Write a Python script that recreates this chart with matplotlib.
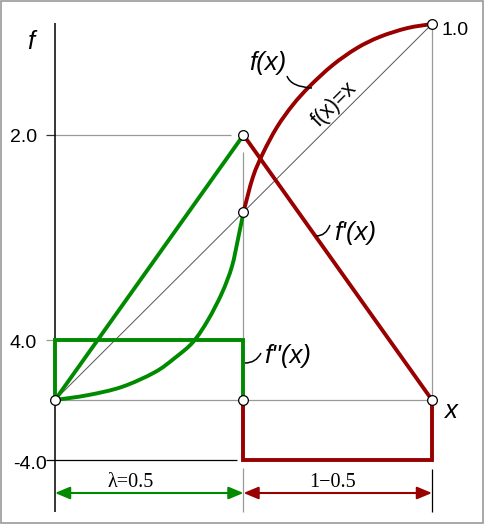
import matplotlib
matplotlib.use("Agg")
import matplotlib.pyplot as plt
from matplotlib.patches import Rectangle, PathPatch
from matplotlib.path import Path

# ---------------- data ----------------
lam = 0.5
# f(x) on [0, lam]  (green)
f_left_x = [0.0, 0.0875, 0.178, 0.265, 0.318, 0.366, 0.406, 0.443, 0.469, 0.485, 0.5]
f_left_y = [0.0, 0.013, 0.035, 0.074, 0.112, 0.154, 0.213, 0.285, 0.354, 0.426, 0.5]
# f(x) on [lam, 1]  (red)
f_right_x = [0.5, 0.525, 0.552, 0.589, 0.631, 0.676, 0.737, 0.801, 0.862, 0.934, 1.0]
f_right_y = [0.5, 0.593, 0.657, 0.726, 0.785, 0.835, 0.891, 0.936, 0.966, 0.989, 1.0]
# f'(x)
fp_x = [0.0, 0.5, 1.0]
fp_y = [0.0, 2.0, 0.0]
# f''(x)
fpp_left = 4.0
fpp_right = -4.0
# axis tick labels
tick_fp = "2.0"
tick_fpp_pos = "4.0"
tick_fpp_neg = "-4.0"
tick_f = "1.0"

# ---------------- layout ----------------
W, H = 485, 525
X0, X1 = 55, 432        # pixel of x=0 and x=1
Y0, Y1 = 400, 24        # pixel of f=0 and f=1
SX = X1 - X0
SY = Y0 - Y1
FP_SCALE = (Y0 - 135) / SY / 2.0     # data units per unit of f'
FPP_SCALE = 60 / SY / 4.0            # data units per unit of f''

def P(px, py):
    """pixel -> data"""
    return ((px - X0) / SX, (Y0 - py) / SY)

GREEN = "#008a00"
RED = "#990000"
GRAY = "#999999"

fig = plt.figure(figsize=(W / 100, H / 100), dpi=100)
ax = fig.add_axes([0, 0, 1, 1])
ax.set_xlim(-X0 / SX, (W - X0) / SX)
ax.set_ylim(-(H - Y0) / SY, Y0 / SY)
ax.axis("off")

fig.patches.append(Rectangle((1 / W, 2 / H), (W - 3) / W, (H - 3) / H,
                             transform=fig.transFigure, fill=False,
                             edgecolor=GRAY, lw=1.2))

def hline(y, px_a, px_b, color, lw=0.9, z=1):
    xa = (px_a - X0) / SX
    xb = (px_b - X0) / SX
    ax.plot([xa, xb], [y, y], color=color, lw=lw, zorder=z, solid_capstyle="butt")

def vline(x, py_a, py_b, color, lw=0.9, z=1):
    ax.plot([x, x], [P(0, py_a)[1], P(0, py_b)[1]], color=color, lw=lw, zorder=z,
            solid_capstyle="butt")

def smooth_curve(xs, ys, color, lw, z=3):
    """Draw a smooth (Catmull-Rom style Bezier) line through the given points."""
    pts = list(zip(xs, ys))
    n = len(pts)
    verts = [pts[0]]
    codes = [Path.MOVETO]
    for i in range(n - 1):
        p0 = pts[i - 1] if i > 0 else pts[i]
        p1 = pts[i]
        p2 = pts[i + 1]
        p3 = pts[i + 2] if i + 2 < n else pts[i + 1]
        c1 = (p1[0] + (p2[0] - p0[0]) / 6, p1[1] + (p2[1] - p0[1]) / 6)
        c2 = (p2[0] - (p3[0] - p1[0]) / 6, p2[1] - (p3[1] - p1[1]) / 6)
        verts += [c1, c2, p2]
        codes += [Path.CURVE4] * 3
    ax.add_patch(PathPatch(Path(verts, codes), fill=False, edgecolor=color,
                           lw=lw, zorder=z, capstyle="butt"))

# ---- axes & guide lines ----
vline(0.0, 23, 512, "black", lw=1.1, z=2)
hline(0.0, X0, X1, GRAY)
hline(fp_y[1] * FP_SCALE, X0, 231, GRAY)
hline(fp_y[1] * FP_SCALE, 46, X0, "#333333")
hline(fpp_left * FPP_SCALE, 46, X0, GRAY)
hline(fpp_right * FPP_SCALE, 46, 237, "black")
vline(lam, 152, 461, GRAY)
vline(lam, 468, 512, GRAY)
vline(1.0, 24, 400, GRAY)
vline(1.0, 469, 512, "black", lw=0.9)
# diagonal f(x)=x
ax.plot([0, 1], [0, 1], color="#555555", lw=0.7, zorder=2)

LW = 2.8
# ---- green part (x < lam) ----
smooth_curve(f_left_x, f_left_y, GREEN, LW)
ax.plot(fp_x[:2], [v * FP_SCALE for v in fp_y[:2]], color=GREEN, lw=LW, zorder=3)
ax.plot([0, 0, lam, lam], [0, fpp_left * FPP_SCALE, fpp_left * FPP_SCALE, 0],
        color=GREEN, lw=LW, zorder=3, solid_joinstyle="miter")
# ---- red part (x > lam) ----
smooth_curve(f_right_x, f_right_y, RED, LW)
ax.plot(fp_x[1:], [v * FP_SCALE for v in fp_y[1:]], color=RED, lw=LW, zorder=3)
ax.plot([lam, lam, 1, 1], [0, fpp_right * FPP_SCALE, fpp_right * FPP_SCALE, 0],
        color=RED, lw=LW, zorder=3, solid_joinstyle="miter")

# ---- circles ----
cx = [0.0, lam, 1.0, lam, lam, 1.0]
cy = [0.0, 0.0, 0.0, f_left_y[-1], fp_y[1] * FP_SCALE, f_right_y[-1]]
ax.plot(cx, cy, "o", ms=7, mfc="white", mec="black", mew=0.9, zorder=5, ls="none")

# ---- arrows ----
ya = P(0, 493)[1]
arrow_style = "<|-|>,head_length=0.6,head_width=0.25"
ax.annotate("", xy=(lam, ya), xytext=(0, ya),
            arrowprops=dict(arrowstyle=arrow_style, color=GREEN, lw=1.5,
                            mutation_scale=15, shrinkA=0, shrinkB=0))
ax.annotate("", xy=(1.0, ya), xytext=(lam, ya),
            arrowprops=dict(arrowstyle=arrow_style, color=RED, lw=1.5,
                            mutation_scale=15, shrinkA=0, shrinkB=0))

# ---- texts ----
SANS = "Liberation Sans"
SERIF = "Liberation Serif"
it = dict(family=SANS, style="italic", fontsize=18.5, color="black")
num = dict(family=SANS, fontsize=14, color="black")

ax.text(*P(27, 49), "f", ha="left", va="baseline", **it)
ax.text(*P(444, 418), "x", ha="left", va="baseline", **it)
ax.text(*P(249, 70), "f(x)", ha="left", va="baseline", **it)
ax.text(*P(334, 240), "f'(x)", ha="left", va="baseline", **it)
ax.text(*P(264, 363), "f''(x)", ha="left", va="baseline", **it)

ax.text(*P(37, 142), tick_fp, ha="right", va="baseline", **num)
ax.text(*P(37, 348), tick_fpp_pos, ha="right", va="baseline", **num)
ax.text(*P(47, 469), tick_fpp_neg, ha="right", va="baseline", **num)
ax.text(*P(442, 35), tick_f, ha="left", va="baseline", **num)

ax.text(*P(131, 487), "λ=0.5", ha="center", va="baseline",
        family=SERIF, fontsize=14.5)
ax.text(*P(333, 487), "1\u22120.5", ha="center", va="baseline",
        family=SERIF, fontsize=14.5)

ax.text(*P(319, 127), "f(x)=x", ha="left", va="baseline", rotation=45,
        rotation_mode="anchor", family=SANS, fontsize=15.5)

# ---- leader curves ----
def leader(p0, pc, p1):
    verts = [P(*p0), P(*pc), P(*p1)]
    path = Path(verts, [Path.MOVETO, Path.CURVE3, Path.CURVE3])
    ax.add_patch(PathPatch(path, fill=False, edgecolor="black", lw=1.1, zorder=4))

leader((287, 76), (291, 87), (312, 88))
leader((316, 236), (326, 236), (330, 225))
leader((245, 363), (256, 363), (261, 353))

fig.savefig("out.png", dpi=100)
